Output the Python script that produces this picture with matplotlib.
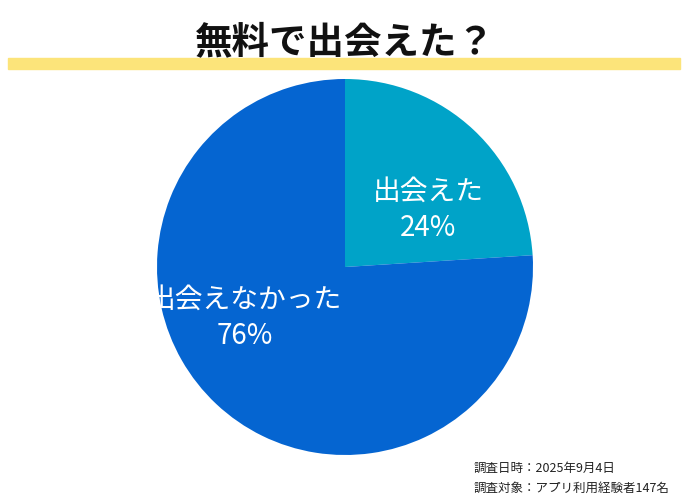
import matplotlib
matplotlib.use("Agg")
import matplotlib.pyplot as plt
from matplotlib.patches import Rectangle

plt.rcParams['font.family'] = ['Noto Sans CJK JP', 'DejaVu Sans']

labels = ["出会えた", "出会えなかった"]
values = [24, 76]
colors = ["#00a3c8", "#0565d1"]
title = "無料で出会えた？"
notes = ["調査日時：2025年9月4日", "調査対象：アプリ利用経験者147名"]

W, H = 690, 500
fig = plt.figure(figsize=(6.9, 5.0), dpi=100)
fig.patch.set_facecolor("white")

# yellow band
fig.patches.append(Rectangle((8 / W, 1 - 69 / H), 672 / W, 11 / H,
                             transform=fig.transFigure, color="#fce47a", zorder=0))
fig.text(0.5, 1 - 42 / H, title, ha="center", va="center", fontsize=27,
         fontweight="bold", color="#111111", zorder=2)

cx, cy, r = 345, 267, 188
ax = fig.add_axes([(cx - r) / W, 1 - (cy + r) / H, 2 * r / W, 2 * r / H])
ax.pie(values, colors=colors, startangle=90, counterclock=False,
       wedgeprops=dict(linewidth=0))
ax.set_aspect("auto")
ax.set_xlim(-1, 1); ax.set_ylim(-1, 1)

pos = [(428, 210), (245, 318)]
for (x, y), lab, v in zip(pos, labels, values):
    fig.text(x / W, 1 - y / H, f"{lab}\n{v}%", ha="center", va="center",
             fontsize=20, color="white", linespacing=1.3)

for i, n in enumerate(notes):
    fig.text(474 / W, 1 - (468 + 20 * i) / H, n, ha="left", va="center",
             fontsize=9, color="#222222")

fig.savefig("out.png", dpi=100)
